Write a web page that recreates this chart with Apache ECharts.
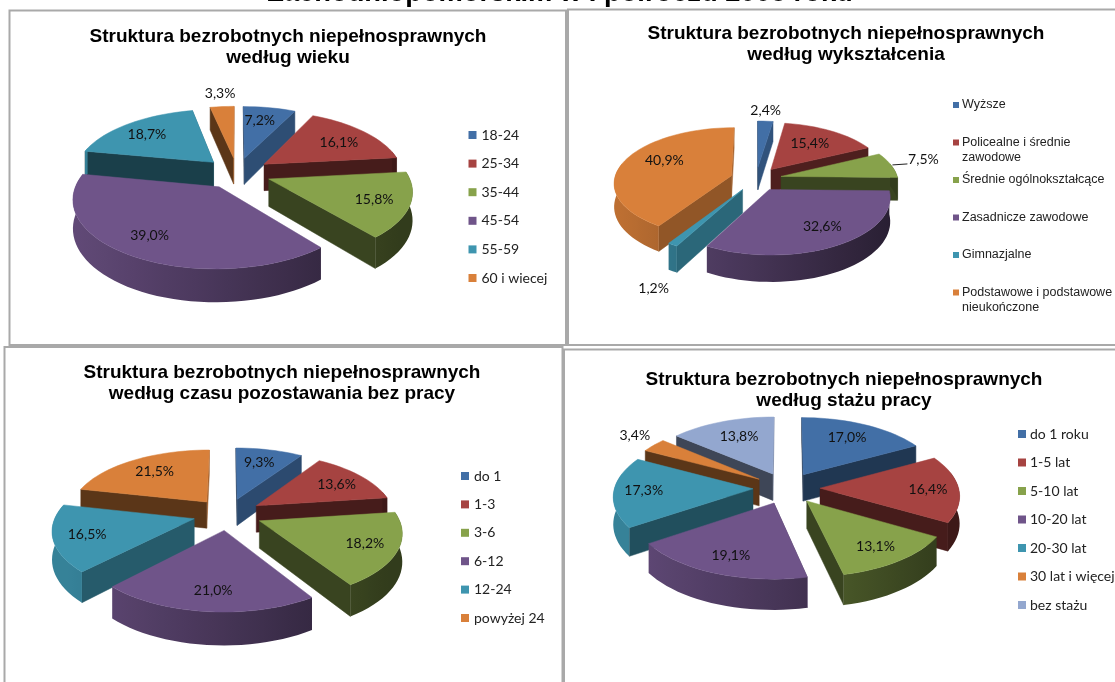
<!DOCTYPE html>
<html><head><meta charset="utf-8">
<script src="https://cdn.jsdelivr.net/npm/echarts@6/dist/echarts.min.js"></script>
<style>html,body{margin:0;padding:0;background:#fff}#c{width:1115px;height:682px}</style>
</head><body><div id="c"></div>
<script>
const pageHeading = 'Zachodniopomorskim w I półroczu 2008 roku';
const titleAge = 'Struktura bezrobotnych niepełnosprawnych\nwedług wieku';
const namesAge = ['18-24','25-34','35-44','45-54','55-59','60 i wiecej'];
const valuesAge = [7.2,16.1,15.8,39.0,18.7,3.3];
const titleEdu = 'Struktura bezrobotnych niepełnosprawnych\nwedług wykształcenia';
const namesEdu = ['Wyższe','Policealne i średnie\nzawodowe','Średnie ogólnokształcące','Zasadnicze zawodowe','Gimnazjalne','Podstawowe i podstawowe\nnieukończone'];
const valuesEdu = [2.4,15.4,7.5,32.6,1.2,40.9];
const titleTime = 'Struktura bezrobotnych niepełnosprawnych\nwedług czasu pozostawania bez pracy';
const namesTime = ['do 1','1-3','3-6','6-12','12-24','powyżej 24'];
const valuesTime = [9.3,13.6,18.2,21.0,16.5,21.5];
const titleTenure = 'Struktura bezrobotnych niepełnosprawnych\nwedług stażu pracy';
const namesTenure = ['do 1 roku','1-5 lat','5-10 lat','10-20 lat','20-30 lat','30 lat i więcej','bez stażu'];
const valuesTenure = [17.0,16.4,13.1,19.1,17.3,3.4,13.8];
const palette = ['#426fa6','#a64341','#87a24b','#6f5489','#3e95af','#d9803a','#93a7cf'];

const layouts = [
 {title:titleAge,names:namesAge,values:valuesAge,cx:237,cy:173,B:139,A:64.2,p:.158,e:.243,d:27,
  tx:283,ty:21,lx:468.5,ly:135,ls:28.6,li:8,lf:'14px Lato',ltx:481.5,
  labelR:[.62,.62,.62,.62,.62,1.2],nudge:[[-1,-5],[11,-1],[20,4],[-18,9],[-12,-3],[0,-4]]},
 {title:titleEdu,names:namesEdu,values:valuesEdu,cx:756,cy:179,B:117,A:54.6,p:.122,e:.22,d:23,
  tx:841,ty:18,lx:953,ly:105,ls:37.5,li:6,lf:'12.5px "Liberation Sans"',ltx:962,
  labelR:[1.2,.62,1.2,.62,1.2,.62],nudge:[[-1,-3],[0,-1],[11,-3],[12,4],[-3,31],[0,-6]],leader:[2]},
 {title:titleTime,names:namesTime,values:valuesTime,cx:227.6,cy:514,B:138,A:63.4,p:.154,e:.25,d:27,
  tx:277,ty:357,lx:461,ly:476,ls:28.4,li:8,lf:'14px Lato',ltx:474,
  labelR:[.62,.62,.62,.62,.62,.62],nudge:[[1,-5],[14,-2],[22,5],[-1,13],[-21,4],[-5,-4]]},
 {title:titleTenure,names:namesTenure,values:valuesTenure,cx:786.5,cy:488,B:138.5,A:65.3,p:.1,e:.242,d:27,
  tx:839,ty:364,lx:1018,ly:434,ls:28.5,li:8,lf:'14px Lato',ltx:1030,
  labelR:[.62,.62,.62,.62,.62,1.2,.62],nudge:[[4,-5],[22,1],[13,10],[-8,11],[-23,0],[1,-3],[-1,-4]]}
];
const frames = [[9.5,10.5,556.5,334.5],[568,9.5,560,335.5],[4.5,347,558,345],[564,349.5,560,340]];

function shade(hex,b){
  const n=parseInt(hex.slice(1),16);
  const c=[n>>16,(n>>8)&255,n&255].map(v=>Math.round(v*b));
  return 'rgb('+c.join(',')+')';
}
function makeSeries(L){
  const total=L.values.reduce((a,b)=>a+b,0);
  const starts=[];let acc=0;
  L.values.forEach(v=>{starts.push(acc/total*2*Math.PI);acc+=v;});
  const order=L.values.map((v,i)=>{const m=starts[i]+v/total*Math.PI;return {i,y:-Math.cos(m)};})
    .sort((a,b)=>a.y-b.y).map(o=>o.i);
  function project(x,y,z){
    const s=1/(1-L.p*y);
    return [L.cx+L.B*x*s, L.cy+L.A*y*s+z*L.d*s];
  }
  return {
    type:'custom',coordinateSystem:'none',animation:false,silent:true,
    data:L.values.map(v=>[v]),
    renderItem(params,api){
      const i=params.dataIndex, val=api.value(0);
      const a0=starts[i], a1=a0+val/total*2*Math.PI, m=(a0+a1)/2;
      const ox=L.e*Math.sin(m), oy=-L.e*Math.cos(m);
      const rim=(a,r)=>[ox+(r===undefined?1:r)*Math.sin(a), oy-(r===undefined?1:r)*Math.cos(a)];
      const base=order.indexOf(i)*1000, col=palette[i], kids=[];
      const poly=(pts,fill,z)=>kids.push({type:'polygon',z2:base+z,shape:{points:pts},
        style:{fill,stroke:typeof fill==='string'?fill:null,lineWidth:.5}});
      // radial walls
      [[a0,-1],[a1,1]].forEach(([a,sgn])=>{
        const nx=sgn*Math.cos(a), ny=sgn*Math.sin(a);
        if(ny<-.02 && nx<.9) return;
        const r=rim(a);
        poly([project(ox,oy,0),project(r[0],r[1],0),project(r[0],r[1],1),project(ox,oy,1)],
          shade(col,Math.max(.42,.25+.5*nx)),10+Math.round(r[1]*5)+5);
      });
      // outer wall as one polygon, gradient light (left) to dark (right)
      const steps=Math.max(2,Math.ceil((a1-a0)/(Math.PI/60)));
      const arc=[];
      for(let k=0;k<=steps;k++) arc.push(a0+(a1-a0)*k/steps);
      const vis=arc.filter(a=>Math.cos(a)<=.25);
      if(vis.length>1){
        const up=vis.map(a=>{const r=rim(a);return project(r[0],r[1],0);});
        const dn=vis.map(a=>{const r=rim(a);return project(r[0],r[1],1);}).reverse();
        const pts=up.concat(dn);
        const xs=pts.map(q=>q[0]),minX=Math.min(...xs),maxX=Math.max(...xs);
        const colorStops=[];
        for(let k=0;k<=8;k++){
          const X=minX+(maxX-minX)*k/8;
          const s=Math.max(-1,Math.min(1,(X-L.cx)/(L.B*1.15)));
          colorStops.push({offset:k/8,color:shade(col,.62-.25*s)});
        }
        poly(pts,{type:'linear',x:0,y:0,x2:1,y2:0,colorStops},30);
      }
      // top face
      const top=[project(ox,oy,0)];
      arc.forEach(a=>{const r=rim(a);top.push(project(r[0],r[1],0));});
      poly(top,col,100);
      // value label
      const lr=rim(m,L.labelR[i]);
      const lp=project(lr[0],lr[1],0);
      const lx=lp[0]+L.nudge[i][0], ly=lp[1]+L.nudge[i][1];
      kids.push({type:'text',z2:90000,style:{text:val.toFixed(1).replace('.',',')+'%',x:lx,y:ly,
        fill:'#111',font:'14px Lato',align:'center',verticalAlign:'middle'}});
      if(L.leader&&L.leader.includes(i)){
        kids.push({type:'line',z2:90000,shape:{x1:lx-31,y1:ly+5,x2:lx-16,y2:ly+4},style:{stroke:'#222',lineWidth:1}});
      }
      return {type:'group',children:kids};
    }
  };
}
const graphics=[];
frames.forEach(f=>graphics.push({type:'rect',shape:{x:f[0],y:f[1],width:f[2],height:f[3]},
  style:{fill:'none',stroke:'#a9a9a9',lineWidth:2},z:1}));
graphics.push({type:'text',x:560,y:-20,z:5,style:{text:pageHeading,font:'bold 27.3px "Liberation Sans"',fill:'#000',align:'center'}});
layouts.forEach(L=>{
  L.names.forEach((n,i)=>{
    const y=L.ly+i*L.ls;
    graphics.push({type:'rect',z:5,shape:{x:L.lx,y:y-L.li/2,width:L.li,height:L.li},style:{fill:palette[i]}});
    graphics.push({type:'text',z:5,x:L.ltx,y:y-7.5,style:{text:n,font:L.lf,fill:'#222',lineHeight:15,align:'left'}});
  });
});
const chart=echarts.init(document.getElementById('c'),null,{renderer:'canvas'});
chart.setOption({
  backgroundColor:'#fff',animation:false,
  title:layouts.map(L=>({text:L.title,left:L.tx,top:L.ty,textAlign:'center',
    textStyle:{fontFamily:'"Liberation Sans"',fontSize:19,fontWeight:'bold',color:'#000',lineHeight:21}})),
  series:layouts.map(makeSeries),
  graphic:{elements:graphics}
});
</script></body></html>
